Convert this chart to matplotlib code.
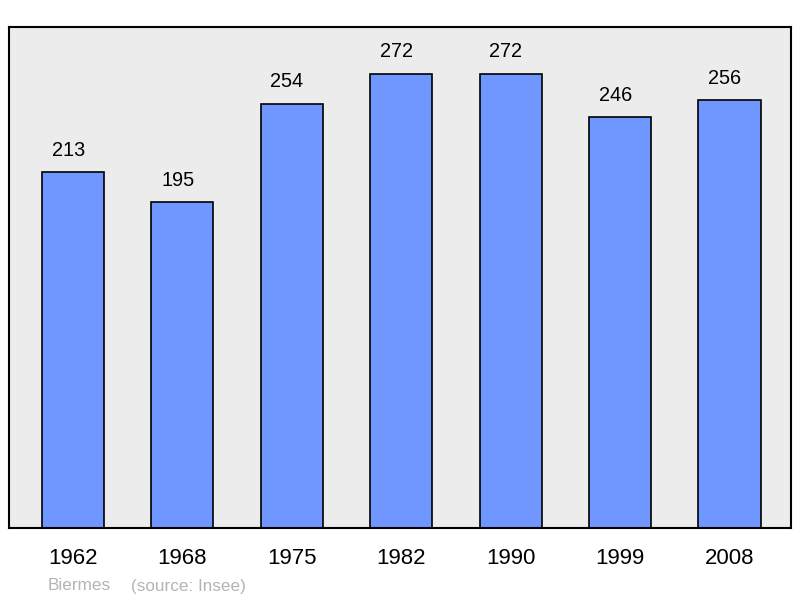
import matplotlib.pyplot as plt

plt.rcParams['font.family'] = ['Liberation Sans', 'DejaVu Sans']

years = ['1962', '1968', '1975', '1982', '1990', '1999', '2008']
population = [213, 195, 254, 272, 272, 246, 256]
commune = 'Biermes'
source = '(source: Insee)'

fig = plt.figure(figsize=(8, 5.98), dpi=100)
ax = fig.add_axes([0.01125, 0.117, 0.9775, 0.838])
ax.set_facecolor('#ececec')

x = range(len(years))
ax.bar(x, population, width=0.567, color='#6f97ff', edgecolor='black', linewidth=1.2, zorder=2)
# labels sit slightly left of the bar centres, as in the original
for xi, v in zip(x, population):
    ax.annotate(str(v), (xi, v), xytext=(-3.5, 9), textcoords='offset points',
                ha='center', va='bottom', fontsize=14.3)

ax.set_xlim(-0.585, 6.562)
ax.set_ylim(0, 300)
ax.set_yticks([])
ax.set_xticks(list(x))
ax.set_xticklabels(years, fontsize=16)
ax.tick_params(axis='x', length=0, pad=14.5)
for s in ax.spines.values():
    s.set_linewidth(1.5)

fig.text(48 / 800, 1 - 586 / 598, commune, fontsize=12.3, color='#b4b4b4', va='center')
fig.text(131 / 800, 1 - 586 / 598, source, fontsize=12.3, color='#b4b4b4', va='center')

fig.savefig('out.png', dpi=100)
